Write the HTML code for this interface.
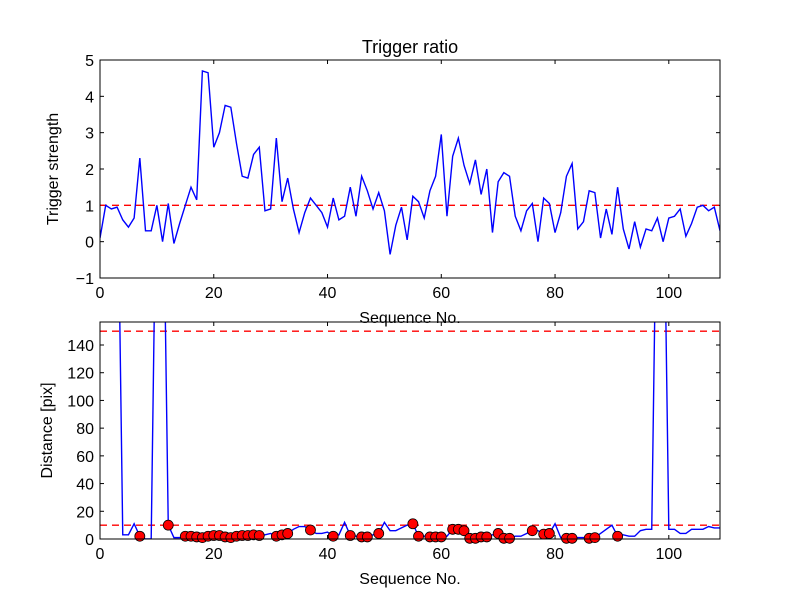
<!DOCTYPE html>
<html><head><meta charset="utf-8">
<style>
body{margin:0;background:#fff;}
svg{display:block;font-family:"Liberation Sans","DejaVu Sans",sans-serif;}
</style></head>
<body>
<svg id="fig" width="800" height="600" viewBox="0 0 800 600">
<rect width="800" height="600" fill="#fff"/>
<defs>
<clipPath id="c1"><rect x="100" y="60" width="620" height="218"/></clipPath>
<clipPath id="c2"><rect x="100" y="322" width="620" height="217"/></clipPath>
</defs>
<text x="410" y="53" font-size="18" text-anchor="middle">Trigger ratio</text>
<g id="top"></g>
<g id="bot"></g>
</svg>
<script>
const NS="http://www.w3.org/2000/svg";
const triggerValues=[0.1,1.0,0.9,0.95,0.6,0.4,0.65,2.3,0.3,0.3,1.0,0.0,1.05,-0.05,0.5,1.0,1.5,1.15,4.7,4.65,2.6,3.0,3.75,3.7,2.7,1.8,1.75,2.4,2.6,0.85,0.9,2.85,1.1,1.75,0.9,0.25,0.8,1.2,1.0,0.8,0.4,1.2,0.6,0.7,1.5,0.7,1.8,1.4,0.9,1.35,0.85,-0.35,0.45,0.95,0.05,1.25,1.1,0.65,1.4,1.8,2.95,0.7,2.35,2.85,2.1,1.6,2.25,1.3,2.0,0.25,1.65,1.9,1.8,0.7,0.3,0.85,1.05,0.0,1.2,1.05,0.25,0.8,1.8,2.15,0.35,0.55,1.4,1.35,0.1,0.9,0.2,1.5,0.35,-0.2,0.55,-0.15,0.35,0.3,0.65,0.0,0.65,0.7,0.9,0.15,0.5,0.95,1.0,0.85,0.95,0.3];
const triggerThreshold=1;
const distanceValues=[300,300,300,300,3,3,11,2,0,0,300,300,10,1,1,2,2,1.5,1,2,2.5,2.5,1.5,1,2,2.5,2.5,3,2.5,3,4,2,3,4,7,9,9,6.5,4,4,5,2,3,12,2.5,2,1.5,1.5,3,4,12,6,6,8,10,11,2,2,1.5,1.5,1.5,2,7,7,6,0.5,0.5,1.5,1.5,3,4,0.5,0.5,2,2,4,6,6,3.5,4,11,1,0.5,0.5,1,1,0.5,1,4,7,10,2,3,2,2,6,7,7,300,300,7,7,4,4,7,7,7,9,8,8];
const markedIndices=[7,12,15,16,17,18,19,20,21,22,23,24,25,26,27,28,31,32,33,37,41,44,46,47,49,55,56,58,59,60,62,63,64,65,66,67,68,70,71,72,76,78,79,82,83,86,87,91];
const distanceThresholds=[150,10];
const topYTicks=[-1,0,1,2,3,4,5];
const botYTicks=[0,20,40,60,80,100,120,140];
const xTicks=[0,20,40,60,80,100];

function el(tag,attrs,parent,txt){const e=document.createElementNS(NS,tag);for(const k in attrs)e.setAttribute(k,attrs[k]);if(txt!==undefined)e.textContent=txt;parent.appendChild(e);return e;}

function axes(g,L,T,W,H,xmax,ymin,ymax,yTicks,ylabel,yoff,prefix){
  const sx=v=>L+v/xmax*W, sy=v=>T+H-(v-ymin)/(ymax-ymin)*H;
  for(const t of xTicks){
    const x=sx(t);
    const tk=el('line',{x1:x,x2:x,y1:T+H,y2:T+H-4,stroke:'#000'},g);
    
    
    el('line',{x1:x,x2:x,y1:T,y2:T+4,stroke:'#000'},g);
    const lb=el('text',{x:x,y:T+H+20,'font-size':16,'text-anchor':'middle'},g,String(t));
    
    
  }
  for(const t of yTicks){
    const y=sy(t);
    const tk=el('line',{x1:L,x2:L+4,y1:y,y2:y,stroke:'#000'},g);
    
    
    el('line',{x1:L+W,x2:L+W-4,y1:y,y2:y,stroke:'#000'},g);
    const lb=el('text',{x:L-6,y:y+6,'font-size':16,'text-anchor':'end'},g,t<0?'\u2212'+(-t):String(t));
    
    
  }
  const xl=el('text',{x:L+W/2,y:T+H+45,'font-size':16,'text-anchor':'middle'},g,'Sequence No.');
  
  
  const yl=el('text',{x:0,y:0,'font-size':16,'text-anchor':'middle',transform:`translate(${L-yoff},${T+H/2}) rotate(-90)`},g,ylabel);
  
  
  return {sx,sy};
}

const gt=document.getElementById('top');
const A=axes(gt,100,60,620,218,109,-1,5,topYTicks,'Trigger strength',42,'top');
const tl=el('line',{x1:100,x2:720,y1:A.sy(triggerThreshold),y2:A.sy(triggerThreshold),stroke:'#f00','stroke-dasharray':'7,5','stroke-width':1.4},gt);


const tp=el('polyline',{points:triggerValues.map((v,i)=>A.sx(i)+','+A.sy(v)).join(' '),fill:'none',stroke:'#00f','stroke-width':1.4,'clip-path':'url(#c1)'},gt);


const f1=el('rect',{x:100,y:60,width:620,height:218,fill:'none',stroke:'#000'},gt);



const gb=document.getElementById('bot');
const B=axes(gb,100,322,620,217,109,0,156.6,botYTicks,'Distance [pix]',48,'bottom');
for(const th of distanceThresholds){
  const l=el('line',{x1:100,x2:720,y1:B.sy(th),y2:B.sy(th),stroke:'#f00','stroke-dasharray':'7,5','stroke-width':1.4},gb);
  
  
}
const bp=el('polyline',{points:distanceValues.map((v,i)=>B.sx(i)+','+B.sy(v)).join(' '),fill:'none',stroke:'#00f','stroke-width':1.4,'clip-path':'url(#c2)'},gb);


for(const i of markedIndices){
  const c=el('circle',{cx:B.sx(i),cy:B.sy(distanceValues[i]),r:5,fill:'#f00',stroke:'#000','stroke-width':0.8},gb);
  
  
}
const f2=el('rect',{x:100,y:322,width:620,height:217,fill:'none',stroke:'#000'},gb);


</script>
</body></html>
